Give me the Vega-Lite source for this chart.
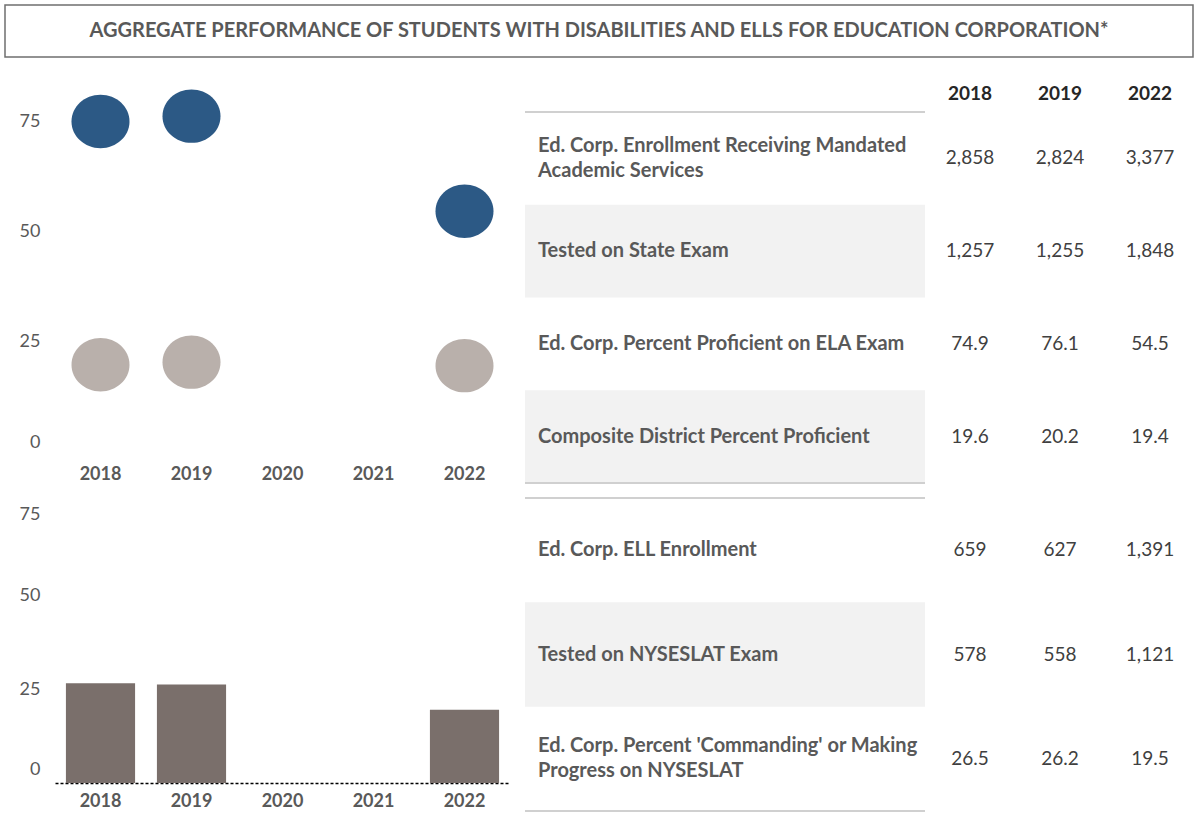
{
  "$schema": "https://vega.github.io/schema/vega-lite/v6.json",
  "padding": {"left": 4, "top": 4, "right": 0, "bottom": 0},
  "config": {
    "font": "Lato",
    "view": {"stroke": null},
    "axis": {
      "grid": false,
      "ticks": false,
      "domain": false,
      "title": null,
      "labelColor": "#595959",
      "labelFontSize": 18,
      "labelFont": "Lato"
    }
  },
  "datasets": {
    "swd": [
      {"metric": "enrolled", "year": "2018", "value": 2858},
      {"metric": "enrolled", "year": "2019", "value": 2824},
      {"metric": "enrolled", "year": "2022", "value": 3377},
      {"metric": "tested", "year": "2018", "value": 1257},
      {"metric": "tested", "year": "2019", "value": 1255},
      {"metric": "tested", "year": "2022", "value": 1848},
      {"metric": "edcorp", "year": "2018", "value": 74.9},
      {"metric": "edcorp", "year": "2019", "value": 76.1},
      {"metric": "edcorp", "year": "2022", "value": 54.5},
      {"metric": "district", "year": "2018", "value": 19.6},
      {"metric": "district", "year": "2019", "value": 20.2},
      {"metric": "district", "year": "2022", "value": 19.4}
    ],
    "ell": [
      {"metric": "ell", "year": "2018", "value": 659},
      {"metric": "ell", "year": "2019", "value": 627},
      {"metric": "ell", "year": "2022", "value": 1391},
      {"metric": "nyseslat", "year": "2018", "value": 578},
      {"metric": "nyseslat", "year": "2019", "value": 558},
      {"metric": "nyseslat", "year": "2022", "value": 1121},
      {"metric": "commanding", "year": "2018", "value": 26.5},
      {"metric": "commanding", "year": "2019", "value": 26.2},
      {"metric": "commanding", "year": "2022", "value": 19.5}
    ],
    "swdRows": [
      {"metric": "enrolled", "label": ["Ed. Corp. Enrollment Receiving Mandated", "Academic Services"]},
      {"metric": "tested", "label": "Tested on State Exam"},
      {"metric": "edcorp", "label": "Ed. Corp. Percent Proficient on ELA Exam"},
      {"metric": "district", "label": "Composite District Percent Proficient"}
    ],
    "ellRows": [
      {"metric": "ell", "label": "Ed. Corp. ELL Enrollment"},
      {"metric": "nyseslat", "label": "Tested on NYSESLAT Exam"},
      {"metric": "commanding", "label": ["Ed. Corp. Percent 'Commanding' or Making", "Progress on NYSESLAT"]}
    ]
  },
  "spacing": 13,
  "vconcat": [
    {
      "width": 1188,
      "height": 52,
      "view": {"stroke": "#6f6f6f", "strokeWidth": 1.5},
      "data": {"values": [{"heading": "AGGREGATE PERFORMANCE OF STUDENTS WITH DISABILITIES AND ELLS FOR EDUCATION CORPORATION*"}]},
      "mark": {"type": "text", "fontSize": 20, "fontWeight": "bold", "color": "#595959"},
      "encoding": {"text": {"field": "heading"}}
    },
    {
      "hconcat": [
        {
          "width": 520,
          "height": 339,
          "data": {"name": "swd"},
          "transform": [{"filter": "datum.metric === 'edcorp' || datum.metric === 'district'"}],
          "mark": {
            "type": "point",
            "filled": true,
            "opacity": 1,
            "shape": "M-1,0A1,0.92,0,1,0,1,0A1,0.92,0,1,0,-1,0Z",
            "size": 3364
          },
          "encoding": {
            "x": {
              "field": "year",
              "type": "ordinal",
              "scale": {"type": "band", "domain": ["2018", "2019", "2020", "2021", "2022"], "range": [50, 505], "paddingInner": 0, "paddingOuter": 0},
              "axis": {"labelFontWeight": "bold", "labelPadding": 14, "labelAngle": 0}
            },
            "y": {
              "field": "value",
              "type": "quantitative",
              "scale": {"domain": [0, 77.05], "nice": false},
              "axis": {
                "values": [0, 25, 50, 75],
                "offset": -50,
                "labelPadding": 15,
                "labelOffset": {"condition": {"test": "datum.value === 0", "value": -9}, "value": 0}
              }
            },
            "color": {
              "field": "metric",
              "type": "nominal",
              "scale": {"domain": ["edcorp", "district"], "range": ["#2c5985", "#b9b0ab"]},
              "legend": null
            }
          }
        },
        {
          "width": 400,
          "height": 371,
          "data": {"name": "swdRows"},
          "encoding": {
            "y": {
              "field": "metric",
              "type": "nominal",
              "scale": {"type": "band", "domain": ["enrolled", "tested", "edcorp", "district"], "paddingInner": 0, "paddingOuter": 0},
              "axis": null
            }
          },
          "layer": [
            {
              "transform": [{"filter": "datum.metric === 'tested' || datum.metric === 'district'"}],
              "mark": {"type": "rect", "color": "#f2f2f2"}
            },
            {
              "transform": [{"filter": "datum.metric === 'enrolled'"}],
              "mark": {"type": "rule", "color": "#d0d0d0", "strokeWidth": 2},
              "encoding": {"y": {"field": "metric", "type": "nominal", "bandPosition": 0}}
            },
            {
              "transform": [{"filter": "datum.metric === 'district'"}],
              "mark": {"type": "rule", "color": "#d0d0d0", "strokeWidth": 2},
              "encoding": {"y": {"field": "metric", "type": "nominal", "bandPosition": 1}}
            },
            {
              "transform": [{"filter": "datum.metric !== 'enrolled'"}],
              "mark": {"type": "text", "align": "left", "dx": 13, "fontWeight": "bold", "fontSize": 20, "color": "#595959"},
              "encoding": {"x": {"value": 0}, "text": {"field": "label"}}
            },
            {
              "transform": [{"filter": "datum.metric === 'enrolled'"}],
              "mark": {"type": "text", "align": "left", "dx": 13, "dy": -12.5, "fontWeight": "bold", "fontSize": 20, "color": "#595959", "lineHeight": 25},
              "encoding": {"x": {"value": 0}, "text": {"field": "label"}}
            }
          ]
        },
        {
          "width": 270,
          "height": 371,
          "data": {"name": "swd"},
          "encoding": {
            "x": {
              "field": "year",
              "type": "ordinal",
              "scale": {"type": "band", "domain": ["2018", "2019", "2022"], "paddingInner": 0, "paddingOuter": 0},
              "axis": {"orient": "top", "labelFontWeight": "bold", "labelColor": "#262626", "labelFontSize": 19, "labelPadding": 9, "labelAngle": 0, "minExtent": 41}
            },
            "y": {
              "field": "metric",
              "type": "nominal",
              "scale": {"type": "band", "domain": ["enrolled", "tested", "edcorp", "district"], "paddingInner": 0, "paddingOuter": 0},
              "axis": null
            }
          },
          "layer": [
            {
              "transform": [{"filter": "datum.metric === 'enrolled' || datum.metric === 'tested'"}],
              "mark": {"type": "text", "fontSize": 19, "color": "#404040"},
              "encoding": {"text": {"field": "value", "type": "quantitative", "format": ","}}
            },
            {
              "transform": [{"filter": "datum.metric === 'edcorp' || datum.metric === 'district'"}],
              "mark": {"type": "text", "fontSize": 19, "color": "#404040"},
              "encoding": {"text": {"field": "value", "type": "quantitative", "format": ".1f"}}
            }
          ]
        }
      ],
      "spacing": 0,
      "bounds": "flush"
    },
    {
      "hconcat": [
        {
          "width": 520,
          "height": 285,
          "data": {"name": "ell"},
          "transform": [{"filter": "datum.metric === 'commanding'"}],
          "mark": {"type": "bar", "color": "#7a6f6b"},
          "encoding": {
            "x": {
              "field": "year",
              "type": "ordinal",
              "scale": {"type": "band", "domain": ["2018", "2019", "2020", "2021", "2022"], "range": [50, 505], "paddingInner": 0.24, "paddingOuter": 0.12},
              "axis": {
                "labelFontWeight": "bold",
                "labelPadding": 9,
                "labelAngle": 0,
                "domain": true,
                "domainDash": [3, 2],
                "domainColor": "#000000",
                "domainWidth": 1.3
              }
            },
            "y": {
              "field": "value",
              "type": "quantitative",
              "scale": {"domain": [0, 75.8], "nice": false},
              "axis": {
                "values": [0, 25, 50, 75],
                "offset": -50,
                "labelPadding": 15,
                "labelOffset": {
                  "condition": [
                    {"test": "datum.value === 0", "value": -14},
                    {"test": "datum.value === 75", "value": 13}
                  ],
                  "value": 0
                }
              }
            }
          }
        },
        {
          "width": 400,
          "height": 313,
          "data": {"name": "ellRows"},
          "encoding": {
            "y": {
              "field": "metric",
              "type": "nominal",
              "scale": {"type": "band", "domain": ["ell", "nyseslat", "commanding"], "paddingInner": 0, "paddingOuter": 0},
              "axis": null
            }
          },
          "layer": [
            {
              "transform": [{"filter": "datum.metric === 'nyseslat'"}],
              "mark": {"type": "rect", "color": "#f2f2f2"}
            },
            {
              "transform": [{"filter": "datum.metric === 'ell'"}],
              "mark": {"type": "rule", "color": "#d0d0d0", "strokeWidth": 2},
              "encoding": {"y": {"field": "metric", "type": "nominal", "bandPosition": 0}}
            },
            {
              "transform": [{"filter": "datum.metric === 'commanding'"}],
              "mark": {"type": "rule", "color": "#d0d0d0", "strokeWidth": 2},
              "encoding": {"y": {"field": "metric", "type": "nominal", "bandPosition": 1}}
            },
            {
              "transform": [{"filter": "datum.metric !== 'commanding'"}],
              "mark": {"type": "text", "align": "left", "dx": 13, "fontWeight": "bold", "fontSize": 20, "color": "#595959"},
              "encoding": {"x": {"value": 0}, "text": {"field": "label"}}
            },
            {
              "transform": [{"filter": "datum.metric === 'commanding'"}],
              "mark": {"type": "text", "align": "left", "dx": 13, "dy": -12.5, "fontWeight": "bold", "fontSize": 20, "color": "#595959", "lineHeight": 25},
              "encoding": {"x": {"value": 0}, "text": {"field": "label"}}
            }
          ]
        },
        {
          "width": 270,
          "height": 313,
          "data": {"name": "ell"},
          "encoding": {
            "x": {
              "field": "year",
              "type": "ordinal",
              "scale": {"type": "band", "domain": ["2018", "2019", "2022"], "paddingInner": 0, "paddingOuter": 0},
              "axis": null
            },
            "y": {
              "field": "metric",
              "type": "nominal",
              "scale": {"type": "band", "domain": ["ell", "nyseslat", "commanding"], "paddingInner": 0, "paddingOuter": 0},
              "axis": null
            }
          },
          "layer": [
            {
              "transform": [{"filter": "datum.metric === 'ell' || datum.metric === 'nyseslat'"}],
              "mark": {"type": "text", "fontSize": 19, "color": "#404040"},
              "encoding": {"text": {"field": "value", "type": "quantitative", "format": ","}}
            },
            {
              "transform": [{"filter": "datum.metric === 'commanding'"}],
              "mark": {"type": "text", "fontSize": 19, "color": "#404040"},
              "encoding": {"text": {"field": "value", "type": "quantitative", "format": ".1f"}}
            }
          ]
        }
      ],
      "spacing": 0,
      "bounds": "flush"
    }
  ]
}
